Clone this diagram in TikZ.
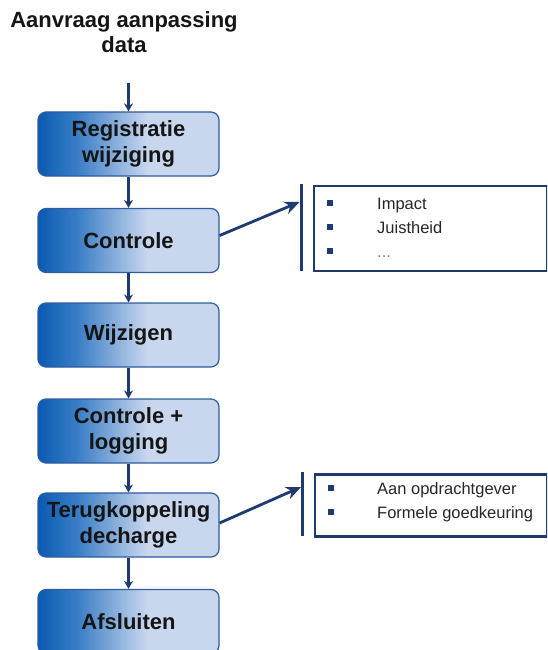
\documentclass[tikz,border=0pt]{standalone}
\usepackage{fontspec}
\setmainfont{Liberation Sans}
\usetikzlibrary{arrows.meta}

\definecolor{bdark}{HTML}{0A5AB2}
\definecolor{bmid}{HTML}{3A7EC6}
\definecolor{blight}{HTML}{C8D6EE}
\definecolor{bedge}{HTML}{2E5C9E}
\definecolor{navy}{HTML}{1F3A6E}
\definecolor{txt}{HTML}{151515}
\definecolor{listtxt}{HTML}{262626}

% left-to-right fill of the process steps: dark on the left, light from about 60%
\pgfdeclarehorizontalshading{stepshade}{100bp}{%
  color(0bp)=(bdark); color(25bp)=(bdark); color(36bp)=(bmid);
  color(55bp)=(blight); color(100bp)=(blight)}

\tikzset{
  stepbox/.style={draw=bedge, line width=1.2pt, rounded corners=8pt,
    shading=stepshade, minimum width=181pt, minimum height=64pt,
    inner sep=0pt, align=center, text=txt,
    font=\fontsize{22}{25.5}\selectfont\bfseries},
  flow/.style={draw=navy, line width=2.4pt, -{Stealth[length=8pt,width=9pt]}},
  side/.style={draw=navy, line width=2.8pt, -{Stealth[length=15pt,width=13pt]}},
  listframe/.style={draw=navy, line width=2.6pt, inner sep=0pt},
  bar/.style={draw=navy, line width=3pt},
  bullet/.style={fill=navy, minimum size=6.5pt, inner sep=0pt},
  item/.style={anchor=base west, inner sep=0pt, text=listtxt,
    font=\fontsize{16.5}{19}\selectfont},
}

\begin{document}
\begin{tikzpicture}[x=1pt, y=-1pt]
\useasboundingbox (0,0) rectangle (547,650);
\clip (0,0) rectangle (547,650);

% request title
\node[anchor=north, align=center, inner sep=0pt, text=txt,
      font=\fontsize{22}{25}\selectfont\bfseries] (title) at (124,11.5)
  {Aanvraag aanpassing\\data};
\coordinate (tstart) at (128.5,83);

% process steps
\node[stepbox] (reg)  at (128.5,144)   {Registratie\\wijziging};
\node[stepbox] (ctrl) at (128.5,240.5) {Controle};
\node[stepbox] (wijz) at (128.5,335)   {Wijzigen};
\node[stepbox] (log)  at (128.5,431)   {Controle +\\logging};
\node[stepbox] (terug) at (128.5,525)  {Terugkoppeling\\decharge};
\node[stepbox] (afsl) at (128.5,621.5) {Afsluiten};

\draw[flow] (tstart) -- (reg);
\draw[flow] (reg) -- (ctrl);
\draw[flow] (ctrl) -- (wijz);
\draw[flow] (wijz) -- (log);
\draw[flow] (log) -- (terug);
\draw[flow] (terug) -- (afsl);

% first detail list
\coordinate (bar1top) at (301,184);
\coordinate (bar1bot) at (301,271);
\coordinate (tip1) at (299.5,202);
\draw[bar] (bar1top) -- (bar1bot);
\node[listframe, minimum width=233pt, minimum height=85pt, anchor=north west]
  (list1) at (312.5,184.5) {};
\draw[side] ([yshift=5pt]ctrl.east) -- (tip1);
\node[bullet] (b11) at (330,203) {};
\node[bullet] (b12) at (330,227) {};
\node[bullet] (b13) at (330,251) {};
\node[item] (t11) at (377,209) {Impact};
\node[item] (t12) at (377,233) {Juistheid};
\node[item, text=gray] (t13) at (377,257) {...};

% second detail list
\coordinate (bar2top) at (302.5,472);
\coordinate (bar2bot) at (302.5,536);
\coordinate (tip2) at (301,487);
\draw[bar] (bar2top) -- (bar2bot);
\node[listframe, minimum width=232pt, minimum height=62pt, anchor=north west]
  (list2) at (313.5,473) {};
\draw[side] ([yshift=2pt]terug.east) -- (tip2);
\node[bullet] (b21) at (331,488) {};
\node[bullet] (b22) at (331,512) {};
\node[item] (t21) at (377,494) {Aan opdrachtgever};
\node[item] (t22) at (377,518) {Formele goedkeuring};
\end{tikzpicture}
\end{document}
